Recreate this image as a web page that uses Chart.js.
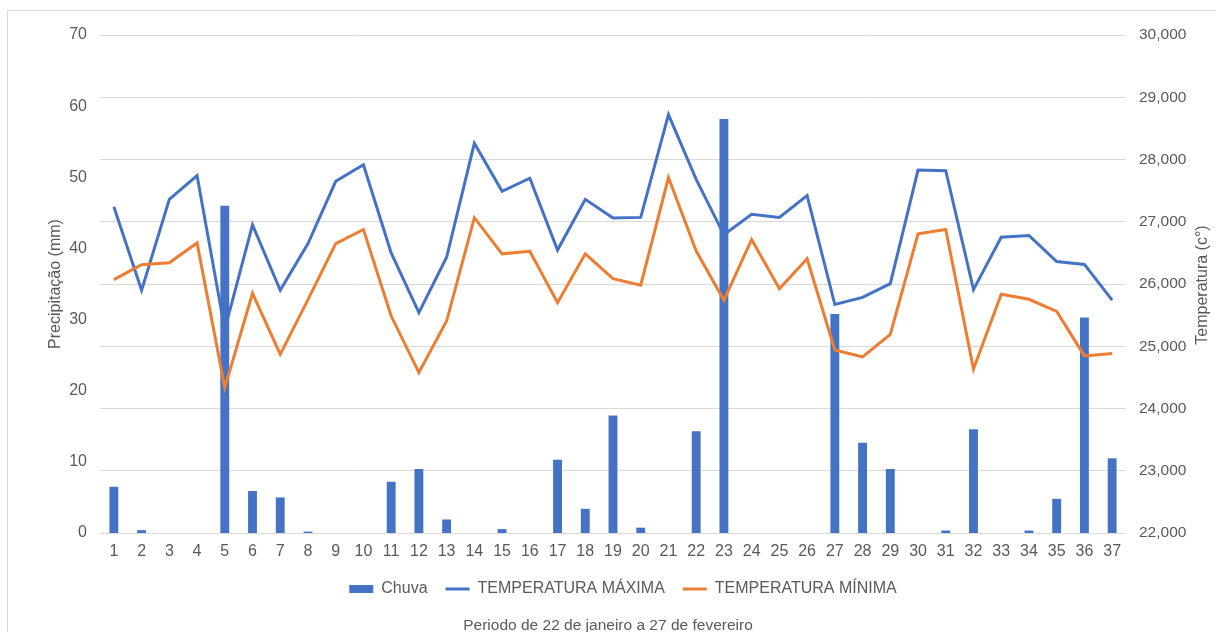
<!DOCTYPE html>
<html lang="pt">
<head>
    <meta charset="UTF-8">
    <title>Chuva e temperatura</title>
    <script src="https://cdn.jsdelivr.net/npm/chart.js"></script>
    <style>
        html, body {
            margin: 0;
            background: #fff;
            overflow: hidden;
        }
        .moldura {
            position: absolute;
            left: 7px;
            top: 10px;
            width: 1300px;
            height: 700px;
            border: 1px solid #d9d9d9;
        }
        .grafico {
            position: absolute;
            left: 0;
            top: 0;
            width: 1216px;
            height: 640px;
        }
    </style>
</head>
<body>
    <div class="moldura"></div>
    <div class="grafico">
        <canvas id="chuvaChart"></canvas>
    </div>

    <script>
        // dias do periodo (eixo x)
        const dias = ['1', '2', '3', '4', '5', '6', '7', '8', '9', '10', '11', '12', '13', '14', '15', '16', '17', '18', '19',
            '20', '21', '22', '23', '24', '25', '26', '27', '28', '29', '30', '31', '32', '33', '34', '35', '36', '37'];

        // precipitacao em mm
        const chuva = [6.5, 0.4, 0, 0, 46.0, 5.9, 5.0, 0.2, 0, 0, 7.2, 9.0, 1.9, 0, 0.55, 0, 10.3, 3.4, 16.5,
            0.75, 0, 14.3, 58.2, 0, 0, 0, 30.8, 12.7, 9.0, 0, 0.35, 14.6, 0, 0.35, 4.8, 30.3, 10.5];

        // temperaturas (eixo direito)
        const tempMaxima = [27240, 25900, 27360, 27740, 25270, 26950, 25900, 26650, 27650, 27915, 26500, 25540, 26430,
            28260, 27490, 27700, 26545, 27360, 27060, 27070, 28720, 27680, 26790, 27120, 27070, 27420, 25670, 25785,
            26005, 27830, 27820, 25910, 26750, 26780, 26360, 26315, 25740];
        const tempMinima = [26070, 26310, 26340, 26660, 24335, 25850, 24870, 25750, 26650, 26875, 25485, 24580, 25405,
            27065, 26485, 26525, 25700, 26485, 26085, 25980, 27710, 26530, 25740, 26715, 25925, 26405, 24940, 24830,
            25190, 26805, 26875, 24635, 25835, 25755, 25560, 24845, 24885];

        const cinza = '#595959';
        const fonte = "'Liberation Sans', Arial, sans-serif";
        Chart.defaults.font.family = fonte;
        Chart.defaults.font.size = 15.5;
        Chart.defaults.color = cinza;

        // titulo do eixo direito, lido de baixo para cima como no Excel
        const tituloDireito = {
            id: 'tituloDireito',
            afterLayout(chart) {
                // legenda do Excel fica um pouco a direita do centro
                chart.legend.left += 15;
                chart.legend.right += 15;
            },
            afterDraw(chart) {
                const { ctx, chartArea } = chart;
                ctx.save();
                ctx.translate(1203, (chartArea.top + chartArea.bottom) / 2 + 1);
                ctx.rotate(-Math.PI / 2);
                ctx.font = '16px ' + fonte;
                ctx.fillStyle = cinza;
                ctx.textAlign = 'center';
                ctx.textBaseline = 'middle';
                ctx.fillText('Temperatura (c°)', 0, 0);
                ctx.restore();
            }
        };

        const ctx = document.getElementById('chuvaChart').getContext('2d');
        new Chart(ctx, {
            type: 'bar',
            data: {
                labels: dias,
                datasets: [{
                    label: 'Chuva',
                    data: chuva,
                    backgroundColor: '#4472c4',
                    borderWidth: 0,
                    yAxisID: 'y',
                    barPercentage: 0.32,
                    categoryPercentage: 1,
                    order: 2
                }, {
                    type: 'line',
                    label: 'TEMPERATURA MÁXIMA',
                    data: tempMaxima,
                    borderColor: '#4472c4',
                    backgroundColor: '#4472c4',
                    borderWidth: 3,
                    pointRadius: 0,
                    tension: 0,
                    yAxisID: 'y1',
                    order: 1
                }, {
                    type: 'line',
                    label: 'TEMPERATURA MÍNIMA',
                    data: tempMinima,
                    borderColor: '#ed7d31',
                    backgroundColor: '#ed7d31',
                    borderWidth: 3,
                    pointRadius: 0,
                    tension: 0,
                    yAxisID: 'y1',
                    order: 0
                }]
            },
            options: {
                responsive: true,
                maintainAspectRatio: false,
                animation: false,
                layout: { padding: { top: 35, left: 0, right: 0, bottom: 0 } },
                plugins: {
                    tooltip: { enabled: false },
                    legend: {
                        position: 'bottom',
                        labels: {
                            usePointStyle: true,
                            pointStyleWidth: 24,
                            boxHeight: 8,
                            padding: 18,
                            font: { size: 16 },
                            sort: (a, b) => a.datasetIndex - b.datasetIndex,
                            generateLabels: chart => Chart.defaults.plugins.legend.labels.generateLabels(chart).map(l => {
                                l.pointStyle = l.datasetIndex === 0 ? 'rect' : 'line';
                                return l;
                            })
                        }
                    },
                    title: {
                        display: true,
                        position: 'bottom',
                        text: 'Periodo de 22 de janeiro a 27 de fevereiro',
                        color: cinza,
                        font: { size: 15.5, weight: 'normal' },
                        padding: { top: 9.7, bottom: 4.7 }
                    }
                },
                scales: {
                    x: {
                        grid: { display: false, drawTicks: false },
                        border: { display: false },
                        ticks: { padding: 9, maxRotation: 0, autoSkip: false, font: { size: 16 } },
                        afterFit: s => { s.height = 30; }
                    },
                    y: {
                        position: 'left',
                        min: 0,
                        max: 70,
                        ticks: { stepSize: 10, padding: 13, font: { size: 16 } },
                        grid: { display: false, drawTicks: false },
                        border: { display: false },
                        title: {
                            display: true,
                            text: 'Precipitação (mm)',
                            font: { size: 16 },
                            padding: { top: 46 }
                        },
                        afterFit: s => { s.width = 100; }
                    },
                    y1: {
                        position: 'right',
                        min: 22000,
                        max: 30000,
                        ticks: {
                            stepSize: 1000,
                            padding: 13,
                            callback: v => v.toLocaleString('en-US')
                        },
                        grid: { color: '#d9d9d9', lineWidth: 1, drawTicks: false },
                        border: { display: false },
                        afterFit: s => { s.width = 90; }
                    }
                }
            },
            plugins: [tituloDireito]
        });
    </script>
</body>
</html>
